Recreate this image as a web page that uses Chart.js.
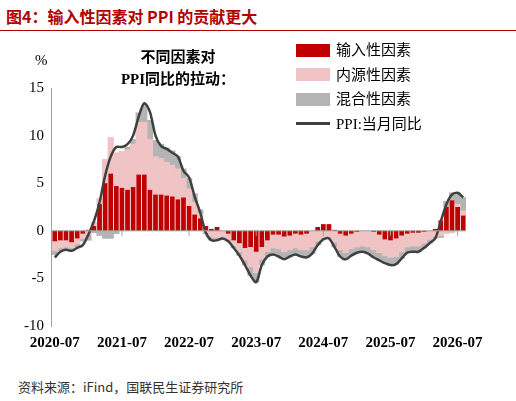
<!DOCTYPE html>
<html><head><meta charset="utf-8">
<script src="https://cdn.jsdelivr.net/npm/chart.js@4"></script>
<style>
body{margin:0;width:516px;height:401px;background:#fff;position:relative;overflow:hidden;font-family:"Liberation Serif","Noto Sans CJK SC",serif}
#title{position:absolute;left:6px;top:4px;font:bold 16px "Noto Sans CJK SC",sans-serif;color:#b00000;}
#rule{position:absolute;left:0;top:30px;width:516px;height:1px;background:#b00000}
#wrap{position:absolute;left:0;top:50px;width:516px;height:316px}
#c{width:516px;height:316px}
#inner{position:absolute;left:118px;top:46px;width:120px;text-align:center;font:bold 15px "Liberation Serif","Noto Sans CJK SC",serif;line-height:22px;color:#000}
#pct{position:absolute;left:35px;top:52px;font:15px "Liberation Serif";}
#legend{position:absolute;left:296px;top:38px;font:15px "Liberation Serif","Noto Sans CJK SC",serif;line-height:24.5px}
#legend div{display:flex;align-items:center}
#legend span.b{display:inline-block;width:34px;height:13px;margin-right:6px}
#legend span.l{display:inline-block;width:34px;height:3px;margin-right:6px;background:#404040}
#src{position:absolute;left:18px;top:377px;font:13px "Noto Sans CJK SC",sans-serif;color:#333}
</style></head><body>
<div id="title">图4：输入性因素对 PPI 的贡献更大</div><div id="rule"></div>
<div id="wrap"><canvas id="c" width="516" height="316"></canvas></div>
<div id="inner">不同因素对<br>PPI同比的拉动：</div>
<div id="pct">%</div>
<div id="legend">
<div><span class="b" style="background:#c00000"></span>输入性因素</div>
<div><span class="b" style="background:#f0c4c4"></span>内源性因素</div>
<div><span class="b" style="background:#b4b4b4"></span>混合性因素</div>
<div><span class="l"></span>PPI:当月同比</div>
</div>
<div id="src">资料来源：iFind，国联民生证券研究所</div>
<script>
const startYear=2020,startMonth=7;
const ppi=[-2.8,-2.2,-2.0,-2.1,-1.8,-1.5,-0.4,1.0,3.0,5.8,7.8,8.8,8.8,9.1,10.0,12.0,13.4,12.5,10.0,8.9,8.6,8.2,7.8,6.3,5.6,3.6,1.9,-0.2,-1.0,-1.0,-0.8,-1.1,-1.8,-2.6,-3.6,-4.7,-5.4,-3.6,-2.7,-2.5,-2.7,-3.0,-2.7,-2.5,-2.7,-2.8,-2.4,-1.5,-0.9,-0.8,-1.7,-2.7,-3.0,-2.6,-2.3,-2.2,-2.4,-2.8,-3.1,-3.4,-3.6,-3.5,-2.9,-2.3,-2.2,-2.2,-1.8,-1.3,-0.8,1.0,2.8,3.8,4.0,3.5];
const importF=[-1.1,-1.0,-1.0,-1.2,-0.8,-0.3,0.1,0.5,2.8,5.0,6.0,4.7,4.5,4.3,4.6,5.9,5.9,4.3,3.8,3.8,3.7,3.6,3.3,3.5,2.6,1.7,1.3,0.5,0.2,0.4,0.0,-0.3,-1.0,-1.3,-1.8,-1.7,-2.2,-1.7,-1.0,-0.4,-0.4,-0.6,-0.5,-0.3,-0.4,-0.3,0.0,0.4,0.7,0.7,0.1,-0.3,-0.5,-0.3,-0.1,0.0,0.0,-0.1,-0.4,-0.9,-1.0,-0.8,-0.5,-0.3,-0.2,-0.2,-0.1,0.0,0.2,1.1,2.5,3.2,2.5,1.6];
const domesticF=[-1.0,-0.8,-0.7,-0.6,-0.6,-0.5,-0.4,0.4,0.6,2.5,3.8,3.5,3.8,4.2,4.5,5.5,5.5,5.3,4.0,3.8,3.5,3.3,3.2,2.0,1.8,1.3,0.5,-0.2,-0.7,-0.7,-0.6,-0.6,-0.6,-0.9,-1.3,-2.1,-2.2,-1.3,-1.2,-1.4,-1.5,-1.6,-1.5,-1.5,-1.6,-1.7,-1.7,-1.1,-0.7,-0.6,-1.2,-1.7,-1.8,-1.6,-1.6,-1.6,-1.7,-1.9,-1.9,-1.7,-1.8,-1.9,-1.7,-1.4,-1.4,-1.4,-1.2,-0.9,-0.6,-0.5,-0.3,-0.2,0.3,0.5];
const mixedF=[-0.4,-0.3,-0.3,-0.3,-0.3,-0.3,-0.6,-0.2,-0.5,-0.8,-0.8,-0.3,0.0,0.3,0.5,1.0,1.8,2.0,1.7,1.5,1.5,1.5,1.3,1.0,1.1,0.9,0.4,-0.1,-0.3,-0.3,-0.2,-0.2,-0.2,-0.4,-0.5,-0.9,-1.0,-0.6,-0.5,-0.7,-0.8,-0.8,-0.7,-0.7,-0.7,-0.8,-0.7,-0.4,-0.2,-0.2,-0.5,-0.7,-0.7,-0.7,-0.6,-0.6,-0.7,-0.8,-0.8,-0.8,-0.8,-0.8,-0.7,-0.6,-0.6,-0.6,-0.5,-0.4,-0.2,-0.2,0.6,0.8,1.2,1.4];
const yTicks=[-10,-5,0,5,10,15];
const labels=ppi.map((_,i)=>{const m=startMonth-1+i;return (startYear+Math.floor(m/12))+'-'+String(m%12+1).padStart(2,'0');});
const zeroLine={id:'zl',afterDatasetsDraw(ch){const {ctx,scales:{x,y}}=ch;const y0=y.getPixelForValue(0);ctx.save();ctx.strokeStyle='#a0a0a0';ctx.lineWidth=1;ctx.beginPath();ctx.moveTo(x.left,y0);ctx.lineTo(x.right,y0);
for(let i=12;i<labels.length;i+=12){const px=x.getPixelForValue(i);ctx.moveTo(px,y0);ctx.lineTo(px,y0+5);}ctx.stroke();ctx.restore();}};
new Chart(document.getElementById('c'),{
data:{labels,datasets:[
{type:'line',data:ppi,borderColor:'#404040',borderWidth:2.5,pointRadius:0,tension:0.3,order:0},
{type:'bar',data:importF,backgroundColor:'#c00000',stack:'s',order:1,barPercentage:0.85,categoryPercentage:1},
{type:'bar',data:domesticF,backgroundColor:'#f0c4c4',stack:'s',order:1,barPercentage:1,categoryPercentage:1},
{type:'bar',data:mixedF,backgroundColor:'#b4b4b4',stack:'s',order:1,barPercentage:1,categoryPercentage:1}
]},
plugins:[zeroLine],
options:{responsive:false,animation:false,devicePixelRatio:1,
layout:{padding:{left:20,right:50,top:38,bottom:6}},
plugins:{legend:{display:false},tooltip:{enabled:false}},
scales:{
x:{stacked:true,grid:{display:false,drawTicks:false},border:{display:false},
 ticks:{autoSkip:false,maxRotation:0,padding:8,color:'#000',font:{family:'Liberation Serif',size:15,weight:'bold'},callback:(v,i)=>i%12===0?labels[i]:''}},
y:{stacked:true,min:-10,max:15,afterBuildTicks:a=>{a.ticks=yTicks.map(v=>({value:v}));},grid:{display:false,drawTicks:true,tickLength:4,color:'#a0a0a0'},border:{display:true,color:'#a0a0a0'},
 ticks:{color:'#000',padding:4,font:{family:'Liberation Serif',size:15}}}
}}});
</script>
</body></html>
